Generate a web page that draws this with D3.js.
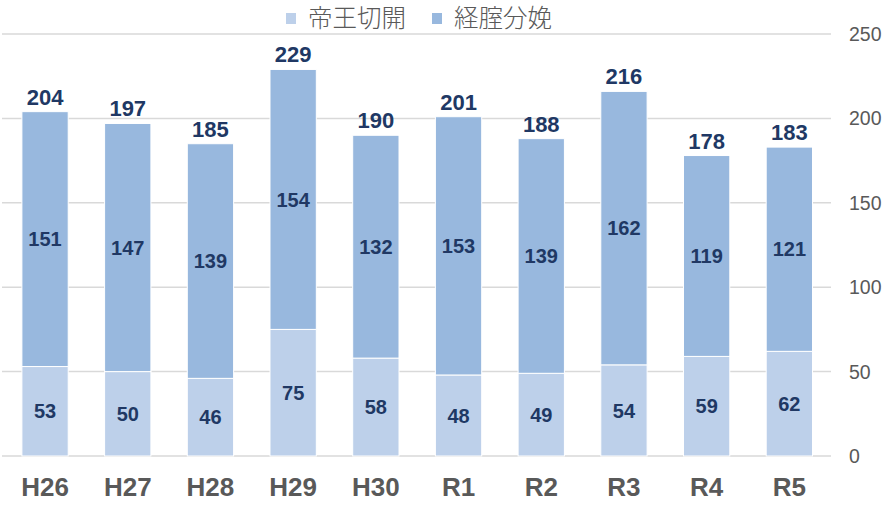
<!DOCTYPE html>
<html><head><meta charset="utf-8">
<script src="https://cdn.jsdelivr.net/npm/d3@7"></script>
<style>body{margin:0;background:#fff}svg{display:block}</style>
</head><body>
<svg id="c" width="892" height="505"></svg>
<script>
const categories = ["H26","H27","H28","H29","H30","R1","R2","R3","R4","R5"];
const cesarean = [53,50,46,75,58,48,49,54,59,62];
const vaginal = [151,147,139,154,132,153,139,162,119,121];
const totals = [204,197,185,229,190,201,188,216,178,183];
const seriesNames = ["帝王切開","経腟分娩"];
const yTicks = [0,50,100,150,200,250];

const colors = ["#BDD0EA","#98B8DE"];
const labelColor = "#203864";
const svg = d3.select("#c");
const x = d3.scaleBand().domain(categories).range([3.7,830.7]).paddingInner(0.44).paddingOuter(0.22);
const y = d3.scaleLinear().domain([0,250]).range([456,34]);

svg.append("g").selectAll("line").data(yTicks).join("line")
  .attr("x1",2).attr("x2",831).attr("y1",d=>y(d)).attr("y2",d=>y(d))
  .attr("stroke","#d9d9d9").attr("stroke-width",1.5);

svg.append("g").selectAll("text").data(yTicks).join("text")
  .attr("x",849).attr("y",d=>y(d)).attr("dy","0.36em")
  .attr("font-family","Liberation Sans, Arial, sans-serif").attr("font-size",19.5)
  .attr("fill","#595959").text(d=>d);

const data = categories.map((c,i)=>({c, a:cesarean[i], b:vaginal[i], t:totals[i]}));
const g = svg.append("g");
const bw = x.bandwidth();
g.selectAll("rect.a").data(data).join("rect").attr("class","a")
  .attr("x",d=>x(d.c)).attr("width",bw)
  .attr("y",d=>y(d.a)).attr("height",d=>y(0)-y(d.a))
  .attr("fill",colors[0]).attr("stroke","#fff").attr("stroke-width",1);
g.selectAll("rect.b").data(data).join("rect").attr("class","b")
  .attr("x",d=>x(d.c)).attr("width",bw)
  .attr("y",d=>y(d.a+d.b)).attr("height",d=>y(d.a)-y(d.a+d.b))
  .attr("fill",colors[1]).attr("stroke","#fff").attr("stroke-width",1);

const lf = "Liberation Sans, Arial, sans-serif";
g.selectAll("text.la").data(data).join("text")
  .attr("x",d=>x(d.c)+bw/2).attr("y",d=>y(d.a/2)).attr("dy","0.36em")
  .attr("text-anchor","middle").attr("font-family",lf).attr("font-weight","bold")
  .attr("font-size",20).attr("fill",labelColor).text(d=>d.a);
g.selectAll("text.lb").data(data).join("text")
  .attr("x",d=>x(d.c)+bw/2).attr("y",d=>y(d.a+d.b/2)).attr("dy","0.36em")
  .attr("text-anchor","middle").attr("font-family",lf).attr("font-weight","bold")
  .attr("font-size",20).attr("fill",labelColor).text(d=>d.b);
g.selectAll("text.lt").data(data).join("text")
  .attr("x",d=>x(d.c)+bw/2).attr("y",d=>y(d.t)-7)
  .attr("text-anchor","middle").attr("font-family",lf).attr("font-weight","bold")
  .attr("font-size",22).attr("fill",labelColor).text(d=>d.t);

svg.append("g").selectAll("text").data(categories).join("text")
  .attr("x",d=>x(d)+bw/2).attr("y",496)
  .attr("text-anchor","middle").attr("font-family",lf).attr("font-weight","bold")
  .attr("font-size",26).attr("fill","#595959").text(d=>d);

const leg = svg.append("g");
const lx = [286,432];
seriesNames.forEach((n,i)=>{
  leg.append("rect").attr("x",lx[i]).attr("y",13).attr("width",10).attr("height",11).attr("fill",colors[i]);
  leg.append("text").attr("x",lx[i]+22).attr("y",26.5)
    .attr("font-family","Noto Sans CJK JP, sans-serif").attr("font-size",24.5)
    .attr("font-weight",300).attr("fill","#595959").text(n);
});
</script>
</body></html>
